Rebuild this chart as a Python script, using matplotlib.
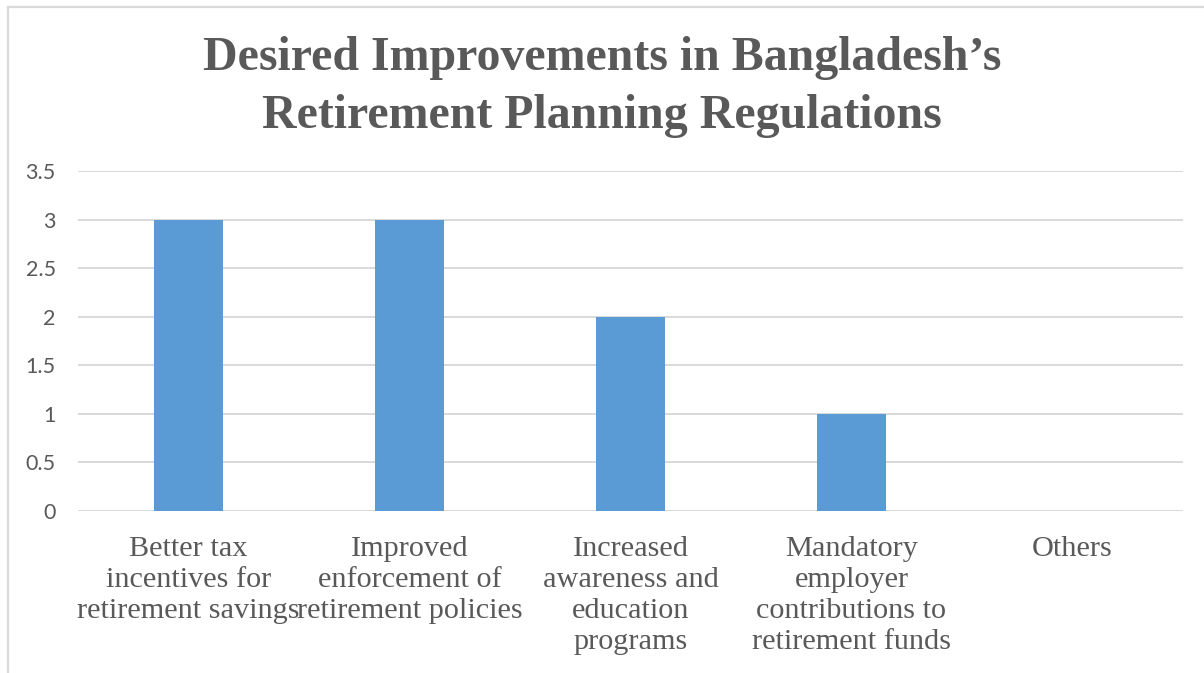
import matplotlib
matplotlib.use("Agg")
import matplotlib.pyplot as plt
from matplotlib.lines import Line2D

# Data
categories = [
    "Better tax\nincentives for\nretirement savings",
    "Improved\nenforcement of\nretirement policies",
    "Increased\nawareness and\neducation\nprograms",
    "Mandatory\nemployer\ncontributions to\nretirement funds",
    "Others",
]
values = [3, 3, 2, 1, 0]
y_ticks = [0, 0.5, 1, 1.5, 2, 2.5, 3, 3.5]
y_tick_labels = ["0", "0.5", "1", "1.5", "2", "2.5", "3", "3.5"]
title = "Desired Improvements in Bangladesh\u2019s\nRetirement Planning Regulations"

BAR = "#5B9BD5"
GRID = "#D9D9D9"
TEXT = "#595959"

W, H = 1204, 673
fig = plt.figure(figsize=(W / 100, H / 100), dpi=100)
ax = fig.add_axes([78 / W, 1 - 511 / H, (1183 - 78) / W, (511 - 171) / H])

x = list(range(len(categories)))
ax.bar(x, values, width=0.31, color=BAR, zorder=3)

ax.set_xlim(-0.5, len(categories) - 0.5)
ax.set_ylim(0, 3.5)
ax.set_yticks(y_ticks)
ax.set_yticklabels(y_tick_labels, fontsize=15.5, color=TEXT, family="Lato")
ax.set_xticks(x)
ax.set_xticklabels(categories, fontsize=21.8, color=TEXT, family="Liberation Serif",
                   linespacing=1.255, va="top")
ax.tick_params(axis="both", length=0)
ax.tick_params(axis="y", pad=16)
ax.tick_params(axis="x", pad=18)

for s in ax.spines.values():
    s.set_visible(False)
ax.yaxis.grid(True, color=GRID, linewidth=1.4, zorder=0)
ax.set_axisbelow(True)

fig.text(0.5, 1 - 87 / H, title, ha="center", va="center", fontsize=34.5,
         fontweight="bold", family="Liberation Serif", color=TEXT, linespacing=1.4)

# outer chart frame (top and left edges)
fig.add_artist(Line2D([8 / W, 1.0], [1 - 7 / H, 1 - 7 / H], transform=fig.transFigure,
                      color=GRID, linewidth=1.6))
fig.add_artist(Line2D([8 / W, 8 / W], [0.0, 1 - 7 / H], transform=fig.transFigure,
                      color=GRID, linewidth=1.6))

fig.savefig("out.png", dpi=100, facecolor="white")
